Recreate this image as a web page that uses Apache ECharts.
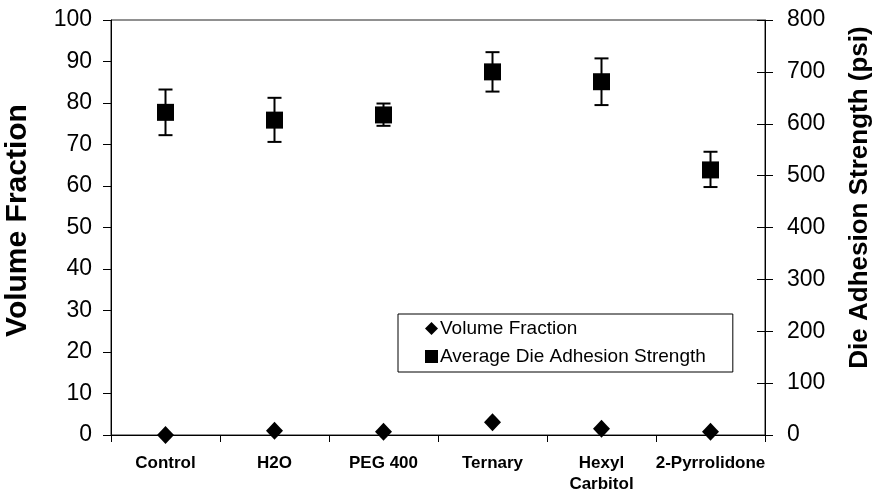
<!DOCTYPE html>
<html>
<head>
<meta charset="utf-8">
<script src="https://cdn.jsdelivr.net/npm/echarts@6/dist/echarts.min.js"></script>
<style>
    html, body { margin: 0; padding: 0; background: #fff; }
    #chart { width: 876px; height: 495px; }
</style>
</head>
<body>
<div id="chart"></div>
<script>
    // data
    var categories = ['Control', 'H2O', 'PEG 400', 'Ternary', 'Hexyl\nCarbitol', '2-Pyrrolidone'];
    var volumeFraction = [0, 1.0, 0.8, 3.1, 1.5, 0.8];
    var adhesion = [622, 607, 617, 700, 681, 511];
    var adhesionLow = [578, 565, 596, 662, 636, 478];
    var adhesionHigh = [666, 650, 639, 738, 726, 546];

    var font = "'Liberation Sans', Arial, sans-serif";
    var myChart = echarts.init(document.getElementById('chart'));

    var errData = [];
    for (var i = 0; i < categories.length; i++) {
        errData.push([i, adhesionLow[i], adhesionHigh[i]]);
    }

    var option = {
        animation: false,
        textStyle: { fontFamily: font, color: '#000' },
        grid: {
            left: 111,
            right: 111,
            top: 20,
            bottom: 60,
            containLabel: false,
            outerBoundsMode: 'none',
            show: true,
            borderColor: '#222',
            borderWidth: 1
        },
        legend: {
            data: [{
                name: 'Volume Fraction',
                icon: 'diamond'
            }, {
                name: 'Average Die Adhesion Strength',
                icon: 'rect'
            }],
            orient: 'vertical',
            left: 398,
            top: 314,
            align: 'left',
            itemWidth: 13,
            itemHeight: 13,
            itemGap: 9,
            padding: [5, 27, 6, 27],
            borderColor: '#000',
            borderWidth: 1,
            selectedMode: false,
            textStyle: { fontFamily: font, fontSize: 19, color: '#000', padding: [0, 0, 0, -3] }
        },
        xAxis: {
            type: 'category',
            data: categories,
            boundaryGap: true,
            axisLine: { lineStyle: { color: '#000', width: 1 } },
            axisTick: { show: true, length: 7, lineStyle: { color: '#000' } },
            axisLabel: {
                fontFamily: font,
                fontSize: 17,
                fontWeight: 'bold',
                color: '#000',
                margin: 18,
                lineHeight: 21,
                interval: 0
            },
            splitLine: { show: false }
        },
        yAxis: [{
            type: 'value',
            min: 0,
            max: 100,
            interval: 10,
            position: 'left',
            name: 'Volume Fraction',
            nameLocation: 'middle',
            nameGap: 78,
            nameTextStyle: {
                fontFamily: font, fontSize: 30, fontWeight: 'bold', color: '#000',
                padding: [0, 0, 0, 14]
            },
            axisLine: { show: true, lineStyle: { color: '#000' } },
            axisTick: { show: true, length: 8, lineStyle: { color: '#000' } },
            axisLabel: { fontFamily: font, fontSize: 23, color: '#000', margin: 19 },
            splitLine: { show: false }
        }, {
            type: 'value',
            min: 0,
            max: 800,
            interval: 100,
            position: 'right',
            name: 'Die Adhesion Strength (psi)',
            nameLocation: 'middle',
            nameGap: 82,
            nameTextStyle: {
                fontFamily: font, fontSize: 26, fontWeight: 'bold', color: '#000',
                padding: [0, 0, 0, 60]
            },
            axisLine: { show: true, lineStyle: { color: '#000' } },
            axisTick: { show: false },
            axisLabel: { fontFamily: font, fontSize: 23, color: '#000', margin: 22 },
            splitLine: { show: false }
        }, {
            // same scale, moved 8px into the plot: its outward ticks cross the right axis line
            type: 'value',
            min: 0,
            max: 800,
            interval: 100,
            position: 'right',
            offset: -8,
            axisLine: { show: false },
            axisTick: { show: true, inside: false, length: 16, lineStyle: { color: '#000' } },
            axisLabel: { show: false },
            splitLine: { show: false }
        }],
        series: [{
            name: 'err',
            type: 'custom',
            yAxisIndex: 1,
            data: errData,
            z: 2,
            renderItem: function (params, api) {
                var x = api.value(0);
                var lo = api.coord([x, api.value(1)]);
                var hi = api.coord([x, api.value(2)]);
                var w = 7;
                var st = { stroke: '#000', lineWidth: 2 };
                return {
                    type: 'group',
                    children: [{
                        type: 'line',
                        shape: { x1: lo[0], y1: lo[1], x2: hi[0], y2: hi[1] },
                        style: st
                    }, {
                        type: 'line',
                        shape: { x1: hi[0] - w, y1: hi[1], x2: hi[0] + w, y2: hi[1] },
                        style: st
                    }, {
                        type: 'line',
                        shape: { x1: lo[0] - w, y1: lo[1], x2: lo[0] + w, y2: lo[1] },
                        style: st
                    }]
                };
            }
        }, {
            name: 'Average Die Adhesion Strength',
            type: 'scatter',
            yAxisIndex: 1,
            symbol: 'rect',
            symbolSize: 17,
            z: 3,
            itemStyle: { color: '#000', opacity: 1 },
            data: adhesion
        }, {
            name: 'Volume Fraction',
            type: 'scatter',
            yAxisIndex: 0,
            symbol: 'diamond',
            symbolSize: [17, 18],
            z: 3,
            itemStyle: { color: '#000', opacity: 1 },
            data: volumeFraction
        }]
    };
    myChart.setOption(option);
</script>
</body>
</html>
